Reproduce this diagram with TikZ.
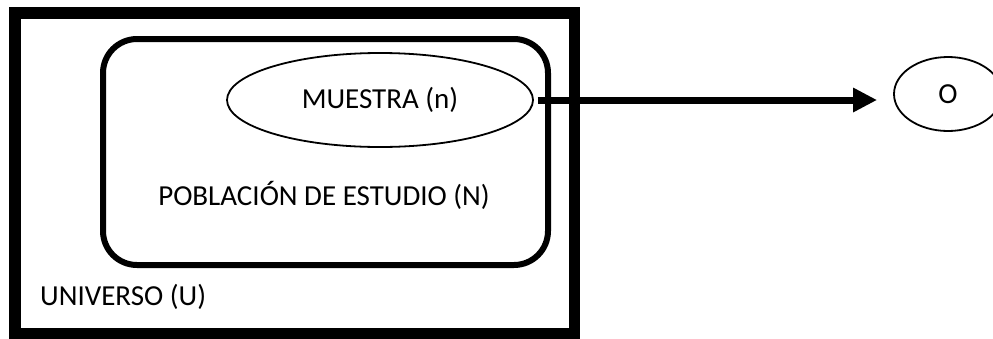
\documentclass[tikz,border=0pt]{standalone}
\usepackage{fontspec}
\setmainfont{Carlito}
\usetikzlibrary{shapes.geometric,arrows.meta}
\begin{document}
\begin{tikzpicture}[x=1pt,y=-1pt,
  lbl/.style={font=\fontsize{29}{35}\selectfont, inner sep=0pt},
  outerbox/.style={draw, line width=11.5pt, minimum width=559.5pt, minimum height=321pt, inner sep=0pt},
  innerbox/.style={draw, line width=6pt, rounded corners=34pt, minimum width=445pt, minimum height=226pt, inner sep=0pt},
  oval/.style={draw, ellipse, line width=1.8pt, inner sep=0pt, font=\fontsize{29}{35}\selectfont},
  arr/.style={line width=7pt, -{Triangle[length=24pt,width=23pt]}}]
\useasboundingbox (0,0) rectangle (993,338);
\node[outerbox] (U) at (294.75,173.5) {};
\node[innerbox] (N) at (325.5,152) {};
\node[oval, minimum width=306pt, minimum height=94pt] (m) at (380,100) {MUESTRA (n)};
\node[oval, minimum width=108pt, minimum height=74pt] (o) at (948,94) {O};
\node[lbl] (pop) at (324,195) {POBLACIÓN DE ESTUDIO (N)};
\node[lbl, anchor=west] (uni) at (40,297) {UNIVERSO (U)};
\draw[arr] ([xshift=4pt]m.east) -- ([xshift=-16pt]m.east -| o.west);
\end{tikzpicture}
\end{document}
